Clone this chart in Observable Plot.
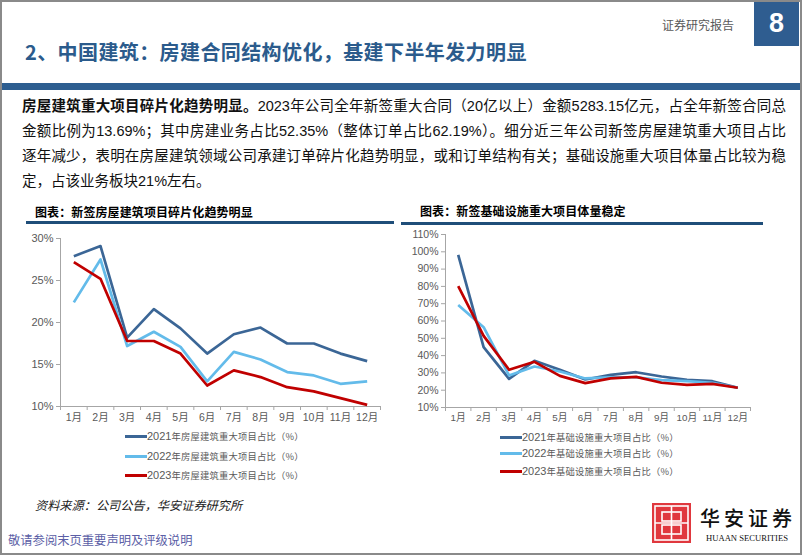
<!DOCTYPE html>
<html><head><meta charset="utf-8">
<script src="https://cdn.jsdelivr.net/npm/d3@7"></script>
<script src="https://cdn.jsdelivr.net/npm/@observablehq/plot@0.6"></script>
<style>
html,body{margin:0;padding:0;background:#fff;}
#page{position:relative;width:802px;height:555px;overflow:hidden;font-family:"Noto Sans CJK SC","Liberation Sans",sans-serif;color:#000;}
.abs{position:absolute;white-space:nowrap;}
#frame{position:absolute;left:0;top:0;width:802px;height:555px;box-sizing:border-box;border:2px solid #8a8a8a;pointer-events:none;}
.bodyline{position:absolute;left:22px;width:764px;height:24px;line-height:24px;font-size:14.5px;text-align:justify;text-align-last:justify;white-space:nowrap;color:#111;}
.bodyline .num{font-family:"Liberation Sans",Arial,sans-serif;}
.ctitle{font-size:12px;font-weight:700;letter-spacing:0.1px;line-height:14px;}
.tline{position:absolute;height:3px;background:#1F4E79;}
.leg{position:absolute;display:flex;align-items:center;height:14px;color:#595959;white-space:nowrap;}
.leg .sw{width:22px;height:3px;margin-right:0;}
.leg .d{font-family:"Liberation Sans",Arial,sans-serif;font-size:11px;}
.leg .c{font-size:9.3px;letter-spacing:0.2px;}
</style>
</head><body>
<div id="page">
  <div class="abs" style="left:754px;top:0;width:45px;height:46px;background:#2F5D90;"></div>
  <div class="abs" style="left:754px;top:8px;width:45px;text-align:center;font-family:'Liberation Sans',Arial,sans-serif;font-weight:700;font-size:27px;line-height:30px;color:#fff;">8</div>
  <div class="abs" style="left:662px;top:18px;font-size:12px;line-height:14px;color:#595959;">证券研究报告</div>
  <div class="abs" style="left:25px;top:40px;font-size:20px;line-height:24px;font-weight:700;color:#2B5B8C;letter-spacing:0.4px;">2、中国建筑：房建合同结构优化，基建下半年发力明显</div>
  <div class="abs" style="left:0;top:83px;width:802px;height:7px;background:#2E5E90;"></div>

  <div class="bodyline" style="top:93px;"><b>房屋建筑重大项目碎片化趋势明显。</b><span class="num">2023</span>年公司全年新签重大合同（<span class="num">20</span>亿以上）金额<span class="num">5283.15</span>亿元，占全年新签合同总</div>
  <div class="bodyline" style="top:118px;">金额比例为<span class="num">13.69%</span>；其中房建业务占比<span class="num">52.35%</span>（整体订单占比<span class="num">62.19%</span>）。细分近三年公司新签房屋建筑重大项目占比</div>
  <div class="bodyline" style="top:143px;">逐年减少，表明在房屋建筑领域公司承建订单碎片化趋势明显，或和订单结构有关；基础设施重大项目体量占比较为稳</div>
  <div class="bodyline" style="top:168px;text-align-last:left;">定，占该业务板块<span class="num">21%</span>左右。</div>

  <div class="abs ctitle" style="left:35px;top:205px;">图表：新签房屋建筑项目碎片化趋势明显</div>
  <div class="tline" style="left:26px;top:221px;width:368px;"></div>
  <div class="abs ctitle" style="left:420px;top:204px;">图表：新签基础设施重大项目体量稳定</div>
  <div class="tline" style="left:401px;top:222px;width:362px;"></div>

  <div id="chartL" class="abs" style="left:20px;top:226px;"></div>
  <div id="chartR" class="abs" style="left:400px;top:226px;"></div>

  <div id="legL"></div>
  <div id="legR"></div>

  <div class="abs" style="left:35px;top:497px;font-size:12.2px;line-height:16px;font-style:italic;color:#222;">资料来源：公司公告，华安证券研究所</div>
  <div class="abs" style="left:8px;top:531px;font-size:12.3px;line-height:18px;color:#5B5EA6;">敬请参阅末页重要声明及评级说明</div>

  <svg class="abs" style="left:650px;top:500px;" width="150" height="48" viewBox="0 0 150 48">
    <rect x="2" y="3" width="39" height="40" fill="#E0383E"/>
    <rect x="5" y="6" width="33" height="34" fill="none" stroke="#fff" stroke-width="1.6"/>
    <rect x="12" y="12" width="19" height="9" fill="none" stroke="#fff" stroke-width="1.6"/>
    <rect x="12" y="25" width="19" height="9" fill="none" stroke="#fff" stroke-width="1.6"/>
    <line x1="21.5" y1="6" x2="21.5" y2="40" stroke="#fff" stroke-width="1.6"/>
    <line x1="5" y1="23" x2="38" y2="23" stroke="#fff" stroke-width="1.6"/>
    <text x="50" y="26" font-family="Noto Sans CJK SC" font-size="20" font-weight="500" fill="#111" textLength="92">华安证券</text>
    <text x="56" y="41" font-family="Liberation Serif" font-size="8.5" fill="#111" textLength="82" lengthAdjust="spacingAndGlyphs">HUAAN SECURITIES</text>
  </svg>

  <div id="frame"></div>
</div>
<script>
const months = ["1月","2月","3月","4月","5月","6月","7月","8月","9月","10月","11月","12月"];
const years = ["2021", "2022", "2023"];
const seriesColors = ["#3B6696", "#63BBEA", "#C00000"];

const house2021 = [27.9, 29.1, 18.2, 21.6, 19.3, 16.3, 18.6, 19.4, 17.5, 17.5, 16.3, 15.4];
const house2022 = [22.4, 27.5, 17.2, 18.9, 17.1, 13.0, 16.5, 15.6, 14.1, 13.7, 12.7, 13.0];
const house2023 = [27.2, 25.2, 17.8, 17.8, 16.3, 12.5, 14.3, 13.5, 12.3, 11.8, 11.0, 10.2];

const infra2021 = [98.2, 44.9, 26.6, 37.0, 31.8, 26.2, 28.9, 30.4, 27.9, 26.0, 25.2, 21.4];
const infra2022 = [69.3, 56.4, 28.5, 33.7, 30.8, 26.8, 27.5, 27.5, 25.8, 25.2, 24.3, 21.4];
const infra2023 = [80.1, 51.4, 31.8, 36.4, 28.3, 24.1, 26.8, 27.7, 24.3, 23.1, 23.7, 21.4];

const houseTicks = [10, 15, 20, 25, 30];
const infraTicks = [10, 20, 30, 40, 50, 60, 70, 80, 90, 100, 110];

const houseLegend = ["年房屋建筑重大项目占比（%）"];
const infraLegend = ["年基础设施重大项目占比（%）"];

function makeChart(values, ticks, dims) {
  const rows = [];
  years.forEach((yr, s) => values[s].forEach((v, i) => rows.push({series: yr, m: i + 1, v})));
  const idx = months.map((_, i) => i + 1);
  const bounds = d3.range(0, months.length + 1).map(i => i + 0.5);
  const yDom = [ticks[0], ticks[ticks.length - 1]];
  return Plot.plot({
    width: dims.width, height: dims.height,
    marginLeft: dims.ml, marginRight: dims.mr, marginTop: dims.mt, marginBottom: dims.mb,
    style: {fontFamily: "'Liberation Sans', Arial, 'Noto Sans CJK SC', sans-serif", fontSize: "11px", color: "#595959", background: "transparent", overflow: "visible"},
    x: {domain: [0.5, months.length + 0.5]},
    y: {domain: yDom},
    color: {domain: years, range: seriesColors},
    marks: [
      Plot.axisY({ticks, tickFormat: d => d + "%", tickSize: 4, tickPadding: 3, stroke: "#a6a6a6", fontSize: dims.yfs, label: null}),
      Plot.axisX({ticks: idx, tickFormat: i => months[i - 1], tickSize: 0, tickPadding: 7, fontSize: dims.xfs, label: null}),
      Plot.axisX({ticks: bounds, tickFormat: () => "", tickSize: 4, stroke: "#a6a6a6", label: null}),
      Plot.ruleY([yDom[0]], {stroke: "#a6a6a6"}),
      Plot.ruleX([0.5], {stroke: "#a6a6a6"}),
      Plot.line(rows, {x: "m", y: "v", z: "series", stroke: "series", strokeWidth: 2.7, strokeLinejoin: "round", strokeLinecap: "butt"})
    ]
  });
}

document.getElementById("chartL").appendChild(
  makeChart([house2021, house2022, house2023], houseTicks, {width: 370, height: 200, ml: 40, mr: 10, mt: 12, mb: 20, xfs: 10.5, yfs: 11}));
document.getElementById("chartR").appendChild(
  makeChart([infra2021, infra2022, infra2023], infraTicks, {width: 360, height: 201, ml: 45, mr: 10, mt: 8, mb: 20, xfs: 9.8, yfs: 10.5}));

function legend(el, x, ys, suffix) {
  years.forEach((yr, i) => {
    const d = document.createElement("div");
    d.className = "leg";
    d.style.left = x + "px";
    d.style.top = (ys[i] - 7) + "px";
    d.innerHTML = `<span class="sw" style="background:${seriesColors[i]}"></span><span class="d">${yr}</span><span class="c">${suffix}</span>`;
    el.appendChild(d);
  });
}
legend(document.getElementById("legL"), 125, [436, 456, 475], houseLegend[0]);
legend(document.getElementById("legR"), 500, [437, 453, 471], infraLegend[0]);
</script>
</body></html>
